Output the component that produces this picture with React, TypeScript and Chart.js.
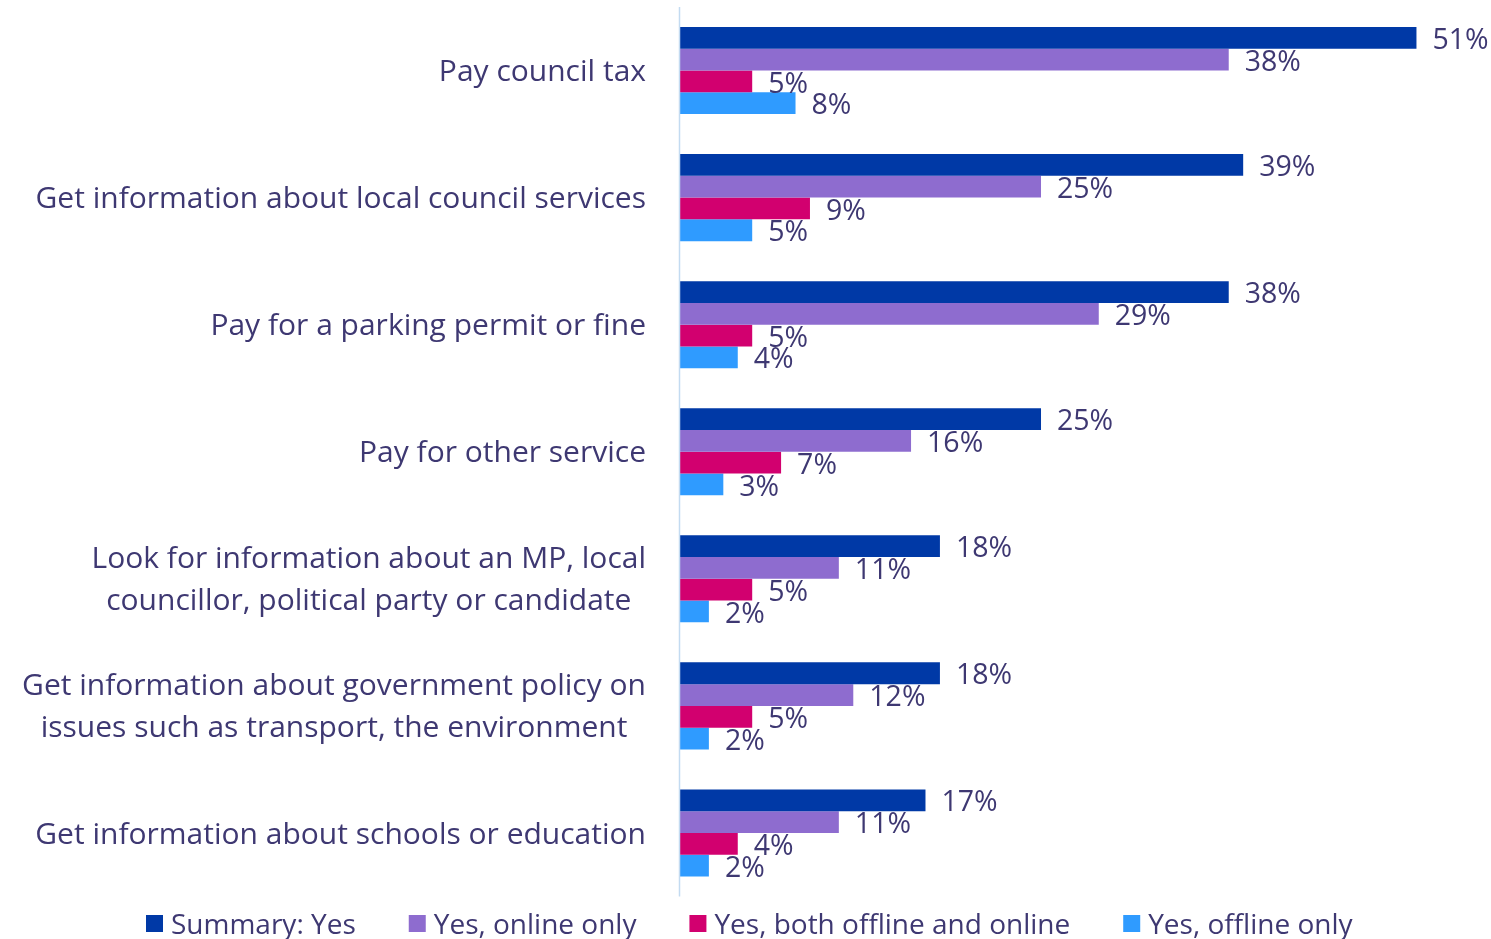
import React, { useEffect, useRef } from "react";
import { Chart, registerables } from "chart.js";

Chart.register(...registerables);

const categories: string[][] = [
  ["Pay council tax"],
  ["Get information about local council services"],
  ["Pay for a parking permit or fine"],
  ["Pay for other service"],
  ["Look for information about an MP, local", "councillor, political party or candidate"],
  ["Get information about government policy on", "issues such as transport, the environment"],
  ["Get information about schools or education"],
];

const seriesNames = ["Summary: Yes", "Yes, online only", "Yes, both offline and online", "Yes, offline only"];
const summaryYes = [51, 39, 38, 25, 18, 18, 17];
const onlineOnly = [38, 25, 29, 16, 11, 12, 11];
const bothOfflineOnline = [5, 9, 5, 7, 5, 5, 4];
const offlineOnly = [8, 5, 4, 3, 2, 2, 2];
const seriesColors = ["#0039A6", "#8E6CCF", "#D2006F", "#2F9BFF"];

const TEXT = "#3E3872";
const FONT = "'Open Sans', Lato, sans-serif";

const overlay = {
  id: "overlay",
  afterDatasetsDraw(chart: any) {
    const ctx = chart.ctx;
    const area = chart.chartArea;
    const yScale = chart.scales.y;
    ctx.save();
    // axis line
    ctx.strokeStyle = "#C3DBF1";
    ctx.lineWidth = 1.5;
    ctx.beginPath();
    ctx.moveTo(area.left - 0.5, area.top);
    ctx.lineTo(area.left - 0.5, area.bottom);
    ctx.stroke();

    // value labels
    ctx.fillStyle = TEXT;
    ctx.font = `28.5px ${FONT}`;
    ctx.textAlign = "left";
    ctx.textBaseline = "middle";
    chart.data.datasets.forEach((ds: any, di: number) => {
      const meta = chart.getDatasetMeta(di);
      meta.data.forEach((bar: any, i: number) => {
        ctx.fillText(ds.data[i] + "%", bar.x + 16, bar.y + 3);
      });
    });

    // category labels
    ctx.font = `30px ${FONT}`;
    ctx.textAlign = "center";
    const rightEdge = area.left - 34;
    categories.forEach((lines, i) => {
      const cy = yScale.getPixelForValue(i);
      const widths = lines.map((l) => ctx.measureText(l).width);
      const maxW = Math.max(...widths);
      const cx = rightEdge - maxW / 2;
      const lh = 42;
      const startY = cy - ((lines.length - 1) * lh) / 2;
      lines.forEach((l, j) => ctx.fillText(l, cx, startY + j * lh + 2));
    });

    // legend
    ctx.font = `28px ${FONT}`;
    ctx.textAlign = "left";
    let x = 146;
    const ly = 924;
    seriesNames.forEach((name, i) => {
      ctx.fillStyle = seriesColors[i];
      ctx.fillRect(x, ly - 9, 17, 17);
      ctx.fillStyle = TEXT;
      ctx.fillText(name, x + 25, ly + 2);
      x += 25 + ctx.measureText(name).width + 53;
    });
    ctx.restore();
  },
};

export default function App() {
  const ref = useRef<HTMLCanvasElement>(null);
  useEffect(() => {
    document.body.style.margin = "0";
    const chart = new Chart(ref.current!, {
      type: "bar",
      data: {
        labels: categories.map((c) => c.join(" ")),
        datasets: [summaryYes, onlineOnly, bothOfflineOnline, offlineOnly].map((d, i) => ({
          label: seriesNames[i],
          data: d,
          backgroundColor: seriesColors[i],
          categoryPercentage: 0.685,
          barPercentage: 1,
        })),
      },
      options: {
        indexAxis: "y",
        animation: false,
        responsive: false,
        layout: { padding: { left: 680, right: 11, top: 7, bottom: 42.5 } },
        plugins: { legend: { display: false }, tooltip: { enabled: false } },
        scales: {
          x: { display: false, min: 0, max: 55.4 },
          y: { display: false },
        },
      },
      plugins: [overlay],
    });
    return () => chart.destroy();
  }, []);
  return <canvas ref={ref} width={1491} height={939} style={{ display: "block" }} />;
}
